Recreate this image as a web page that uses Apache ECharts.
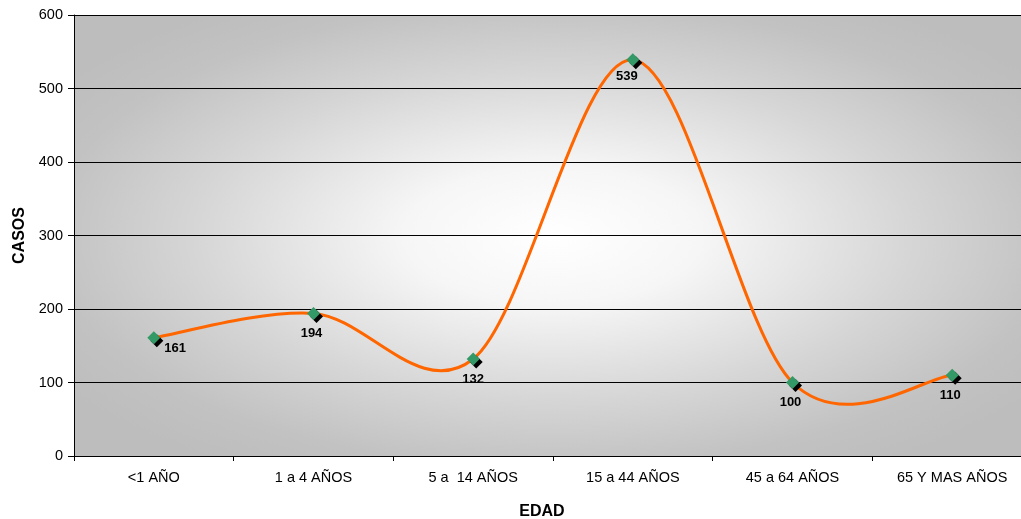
<!DOCTYPE html>
<html>
<head>
<meta charset="utf-8">
<script src="https://cdn.jsdelivr.net/npm/echarts@6/dist/echarts.min.js"></script>
<style>html,body{margin:0;padding:0;background:#fff}#c{width:1021px;height:519px}</style>
</head>
<body>
<div id="c"></div>
<script>
const categories = ['<1 AÑO', '1 a 4 AÑOS', '5 a  14 AÑOS', '15 a 44 AÑOS', '45 a 64 AÑOS', '65 Y MAS AÑOS'];
const casos = [161, 194, 132, 539, 100, 110];
const yTicks = [0, 100, 200, 300, 400, 500, 600];

const G = {left: 74, top: 15, width: 958, height: 441};

const chart = echarts.init(document.getElementById('c'), null, {renderer: 'canvas'});
const font = 'Liberation Sans, Arial, sans-serif';

const labelOffsets = [[-1, 11], [-2, 0], [0, 0], [-6, -1], [-2, 0], [-2, 0]];
const labelData = casos.map((v, i) => ({
  value: v,
  label: i === 0 ? {position: 'right', offset: labelOffsets[i]} : {position: 'bottom', distance: i === 3 ? 5 : 7, offset: labelOffsets[i]}
}));

// Excel-style smoothed line (cardinal spline) drawn through the axis coordinates
function renderSmooth(params, api) {
  if (params.dataIndex !== 0) return null;
  const pts = casos.map((v, i) => api.coord([i, v]));
  const n = pts.length;
  const t = 1 / 6;
  let d = 'M' + pts[0][0] + ' ' + pts[0][1];
  for (let i = 0; i < n - 1; i++) {
    const p0 = pts[Math.max(i - 1, 0)], p1 = pts[i], p2 = pts[i + 1], p3 = pts[Math.min(i + 2, n - 1)];
    const c1 = [p1[0] + (p2[0] - p0[0]) * t, p1[1] + (p2[1] - p0[1]) * t];
    const c2 = [p2[0] - (p3[0] - p1[0]) * t, p2[1] - (p3[1] - p1[1]) * t];
    d += ' C' + c1[0] + ' ' + c1[1] + ' ' + c2[0] + ' ' + c2[1] + ' ' + p2[0] + ' ' + p2[1];
  }
  return {
    type: 'path',
    shape: {pathData: d},
    style: {fill: null, stroke: '#ff6600', lineWidth: 3, lineJoin: 'round'},
    z2: 1
  };
}

chart.setOption({
  animation: false,
  backgroundColor: '#ffffff',
  graphic: [{
    type: 'rect',
    z: -10,
    x: G.left, y: G.top,
    scaleY: G.height / G.width,
    shape: {x: 0, y: 0, width: G.width, height: G.width},
    style: {
      fill: {
        type: 'radial', x: 0.5, y: 0.5, r: 0.62,
        colorStops: [
          {offset: 0, color: '#ffffff'},
          {offset: 0.25, color: '#f6f6f6'},
          {offset: 0.6, color: '#d6d6d6'},
          {offset: 0.85, color: '#c2c2c2'},
          {offset: 1, color: '#bdbdbd'}
        ]
      }
    },
    silent: true
  }],
  grid: {left: G.left, top: G.top, width: G.width, height: G.height, containLabel: false, outerBoundsMode: 'none'},
  xAxis: {
    type: 'category',
    data: categories,
    boundaryGap: true,
    name: 'EDAD',
    nameLocation: 'middle',
    nameGap: 48,
    nameTextStyle: {fontFamily: font, fontWeight: 'bold', fontSize: 16, color: '#000', padding: [0, 0, 0, -22]},
    axisLine: {lineStyle: {color: '#000', width: 1}},
    axisTick: {show: true, length: 5, lineStyle: {color: '#000'}},
    axisLabel: {fontFamily: font, fontSize: 14.5, color: '#000', margin: 14, interval: 0},
    splitLine: {show: false}
  },
  yAxis: {
    type: 'value',
    min: 0, max: 600, interval: 100,
    name: 'CASOS',
    nameLocation: 'middle',
    nameGap: 46,
    nameRotate: 90,
    nameTextStyle: {fontFamily: font, fontWeight: 'bold', fontSize: 16, color: '#000'},
    axisLine: {show: true, lineStyle: {color: '#000', width: 1}},
    axisTick: {show: true, length: 6, lineStyle: {color: '#000'}},
    axisLabel: {fontFamily: font, fontSize: 14.5, color: '#000', margin: 11,
      formatter: v => yTicks.includes(v) ? String(v) : ''},
    splitLine: {show: true, lineStyle: {color: '#000', width: 1}}
  },
  series: [
    {
      type: 'custom',
      data: casos.map((v, i) => [i, v]),
      renderItem: renderSmooth,
      z: 3,
      silent: true
    },
    {
      type: 'line',
      data: casos,
      symbol: 'diamond',
      symbolSize: 13,
      symbolOffset: [3, 3],
      itemStyle: {color: '#000'},
      lineStyle: {opacity: 0, width: 0},
      z: 4,
      silent: true
    },
    {
      type: 'line',
      data: labelData,
      symbol: 'diamond',
      symbolSize: 13,
      itemStyle: {color: '#339966'},
      lineStyle: {opacity: 0, width: 0},
      label: {show: true, fontFamily: font, fontWeight: 'bold', fontSize: 13, color: '#000'},
      z: 5
    }
  ]
});
</script>
</body>
</html>
